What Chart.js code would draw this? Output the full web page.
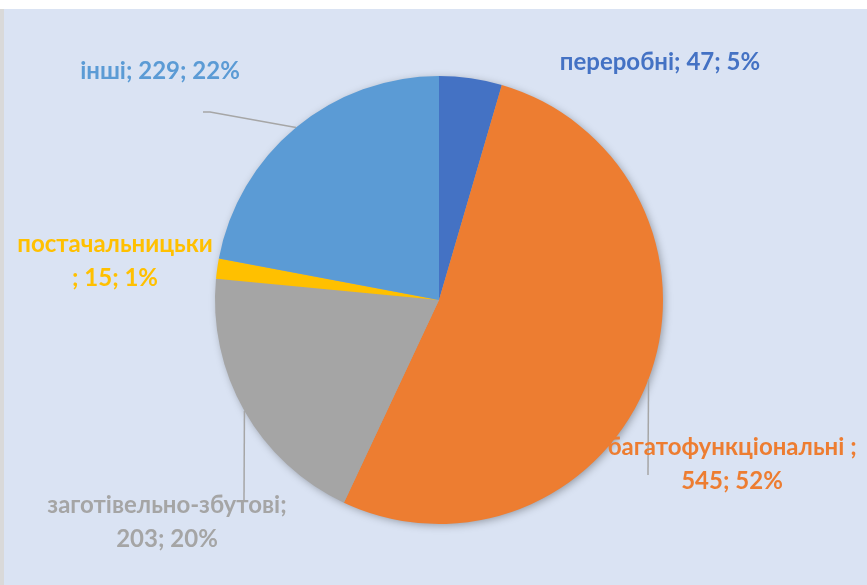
<!DOCTYPE html>
<html>
<head>
<meta charset="utf-8">
<script src="https://cdn.jsdelivr.net/npm/chart.js@4"></script>
<style>
  html, body { margin: 0; padding: 0; background: #ffffff; }
  #wrap { position: absolute; left: 0; top: 0; width: 867px; height: 585px; }
</style>
</head>
<body>
<div id="wrap"><canvas id="myChart" width="867" height="585"></canvas></div>
<script>
// Дані діаграми
const categories = ['переробні', 'багатофункціональні ', 'заготівельно-збутові', 'постачальницькі', 'інші'];
const counts = [47, 545, 203, 15, 229];
const percents = [5, 52, 20, 1, 22];
const colors = ['#4472C4', '#ED7D31', '#A5A5A5', '#FFC000', '#5B9BD5'];

// Розташування підписів (рядки тексту, центр) і кінці виносок
const labelLines = [
  ['переробні; 47; 5%'],
  ['багатофункціональні ;', '545; 52%'],
  ['заготівельно-збутові;', '203; 20%'],
  ['постачальницьки', '; 15; 1%'],
  ['інші; 229; 22%']
];
const labelPos = [[660, 62], [732, 447], [167, 505], [115, 244], [160, 71]];
const leaderEnd = [null, [[648, 475]], [[244, 500]], null, [[210, 112], [203, 112]]];

const ctx = document.getElementById('myChart').getContext('2d');

const decor = {
  id: 'decor',
  beforeDraw(chart) {
    const c = chart.ctx;
    c.save();
    c.fillStyle = '#ffffff';
    c.fillRect(0, 0, chart.width, chart.height);
    c.fillStyle = '#D9D9D9';
    c.fillRect(0, 9, 4, chart.height - 9);
    c.fillStyle = '#DAE3F3';
    c.fillRect(4, 9, chart.width - 4, chart.height - 9);
    c.restore();
  },
  beforeDatasetsDraw(chart) {
    const arc = chart.getDatasetMeta(0).data[0];
    const c = chart.ctx;
    c.save();
    c.shadowColor = 'rgba(0,0,0,0.35)';
    c.shadowBlur = 9;
    c.shadowOffsetX = 2;
    c.shadowOffsetY = 2;
    c.fillStyle = '#A5A5A5';
    c.beginPath();
    c.arc(arc.x, arc.y, arc.outerRadius - 1, 0, Math.PI * 2);
    c.fill();
    c.restore();
  },
  afterDraw(chart) {
    const c = chart.ctx;
    const meta = chart.getDatasetMeta(0);
    c.save();
    // виноски
    c.strokeStyle = '#A6A6A6';
    c.lineWidth = 1.5;
    meta.data.forEach((arc, i) => {
      if (!leaderEnd[i]) return;
      const mid = (arc.startAngle + arc.endAngle) / 2;
      c.beginPath();
      c.moveTo(arc.x + Math.cos(mid) * arc.outerRadius, arc.y + Math.sin(mid) * arc.outerRadius);
      leaderEnd[i].forEach(p => c.lineTo(p[0], p[1]));
      c.stroke();
    });
    // підписи
    c.font = 'bold 24px Lato, "Open Sans", sans-serif';
    c.textAlign = 'center';
    c.textBaseline = 'middle';
    labelLines.forEach((lines, i) => {
      c.fillStyle = colors[i];
      lines.forEach((t, k) => c.fillText(t, labelPos[i][0], labelPos[i][1] + k * 34));
    });
    c.restore();
  }
};

new Chart(ctx, {
  type: 'pie',
  data: {
    labels: categories,
    datasets: [{
      data: counts,
      backgroundColor: colors,
      borderWidth: 0
    }]
  },
  options: {
    responsive: false,
    animation: false,
    layout: { padding: { top: 76, bottom: 61, left: 215, right: 204 } },
    plugins: {
      legend: { display: false },
      tooltip: { enabled: false }
    }
  },
  plugins: [decor]
});
</script>
</body>
</html>
